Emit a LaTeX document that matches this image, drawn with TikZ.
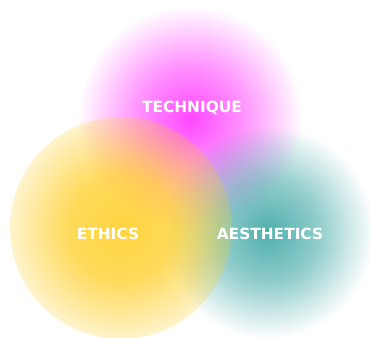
\documentclass[tikz,border=0pt]{standalone}
\usepackage{fontspec}
\setmainfont{DejaVu Sans}
\usetikzlibrary{fadings}

% soft glow: strong core, gone at the rim
\pgfdeclareradialshading{techshade}{\pgfpointorigin}{%
  color(0bp)=(transparent!22); color(12bp)=(transparent!55);
  color(25bp)=(transparent!100); color(50bp)=(transparent!100)}
\pgfdeclarefading{techglow}{\pgfuseshading{techshade}}
\pgfdeclareradialshading{aesshade}{\pgfpointorigin}{%
  color(0bp)=(transparent!16); color(12bp)=(transparent!48);
  color(25bp)=(transparent!100); color(50bp)=(transparent!100)}
\pgfdeclarefading{aesglow}{\pgfuseshading{aesshade}}
% disc: strong centre, pale but visible rim
\pgfdeclareradialshading{ethshade}{\pgfpointorigin}{%
  color(0bp)=(transparent!15); color(12bp)=(transparent!28);
  color(20bp)=(transparent!58); color(25bp)=(transparent!78);
  color(50bp)=(transparent!100)}
\pgfdeclarefading{ethdisc}{\pgfuseshading{ethshade}}

\definecolor{techcol}{RGB}{255,20,255}
\definecolor{aescol}{RGB}{45,160,158}
\definecolor{ethcol}{RGB}{255,205,30}

\tikzset{
    label text/.style={
        text=white,
        font=\bfseries\fontsize{15.4bp}{18bp}\selectfont,
        inner sep=0pt
    }
}

\begin{document}
\begin{tikzpicture}[x=1bp,y=-1bp]
    \useasboundingbox[fill=white] (0,0) rectangle (371,338);

    % the three circles
    \fill[techcol, path fading=techglow] (190,118) circle (112);
    \fill[aescol, path fading=aesglow] (268,232) circle (106);
    \fill[ethcol, path fading=ethdisc] (121,228) circle (111);

    \node[label text] (technique) at (192,108) {TECHNIQUE};
    \node[label text] (ethics) at (108,234) {ETHICS};
    \node[label text] (aesthetics) at (270,234) {AESTHETICS};
\end{tikzpicture}
\end{document}
